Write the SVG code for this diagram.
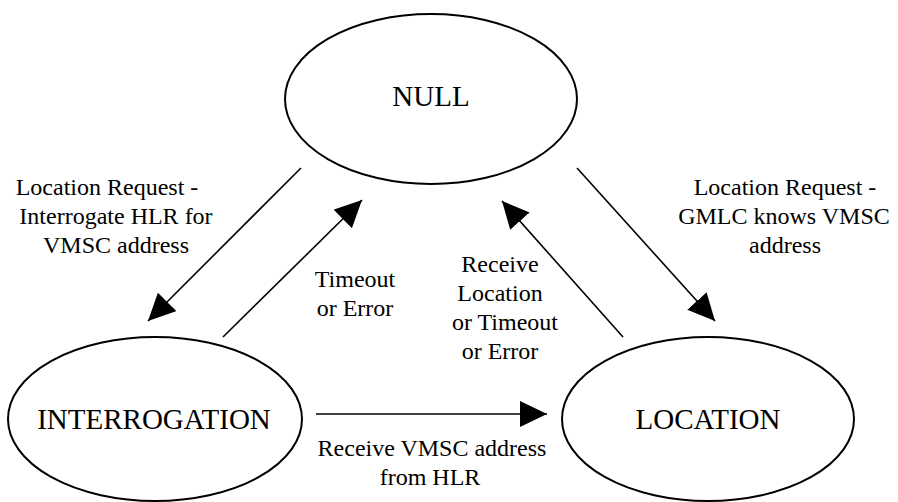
<svg xmlns="http://www.w3.org/2000/svg" width="898" height="502" viewBox="0 0 898 502">
<style>
.state{fill:#fff;stroke:#000;stroke-width:2}
.st{font-family:'Liberation Serif',serif;font-size:29px;fill:#000;text-anchor:middle}
.lb{font-family:'Liberation Serif',serif;font-size:24px;fill:#000;text-anchor:middle}
.edge{stroke:#000;stroke-width:1.6;fill:none;marker-end:url(#ah)}
</style>
<defs>
<marker id="ah" markerUnits="userSpaceOnUse" markerWidth="28" markerHeight="28" refX="27" refY="13" orient="auto">
<path d="M0,0 L27,13 L0,26 z" fill="#000"/>
</marker>
</defs>
<rect width="898" height="502" fill="#fff"/>
<g id="null">
<ellipse class="state" cx="431" cy="99" rx="146" ry="85"/>
<text class="st" x="431" y="106" font-family="Liberation Serif">NULL</text>
</g>
<g id="interrogation">
<ellipse class="state" cx="155" cy="419" rx="147" ry="82"/>
<text class="st" x="154" y="429" font-family="Liberation Serif">INTERROGATION</text>
</g>
<g id="location">
<ellipse class="state" cx="708" cy="419" rx="146" ry="82"/>
<text class="st" x="708" y="429" font-family="Liberation Serif">LOCATION</text>
</g>
<g id="connectors">
<line class="edge" x1="301" y1="168" x2="148" y2="321"/>
<line class="edge" x1="223" y1="337" x2="362" y2="200"/>
<line class="edge" x1="577" y1="168" x2="715" y2="321"/>
<line class="edge" x1="623" y1="337" x2="502" y2="201"/>
<line class="edge" x1="316" y1="414" x2="547" y2="414"/>
</g>
<g id="labels" font-family="Liberation Serif">
<text class="lb" x="107" y="195">Location Request -</text>
<text class="lb" x="116" y="224">Interrogate HLR for</text>
<text class="lb" x="116" y="253">VMSC address</text>
<text class="lb" x="355" y="287">Timeout</text>
<text class="lb" x="355" y="316">or Error</text>
<text class="lb" x="785" y="195">Location Request -</text>
<text class="lb" x="784" y="224">GMLC knows VMSC</text>
<text class="lb" x="785" y="253">address</text>
<text class="lb" x="500" y="272">Receive</text>
<text class="lb" x="500" y="301">Location</text>
<text class="lb" x="505" y="330">or Timeout</text>
<text class="lb" x="500" y="359">or Error</text>
<text class="lb" x="432" y="456">Receive VMSC address</text>
<text class="lb" x="430" y="485">from HLR</text>
</g>
</svg>
